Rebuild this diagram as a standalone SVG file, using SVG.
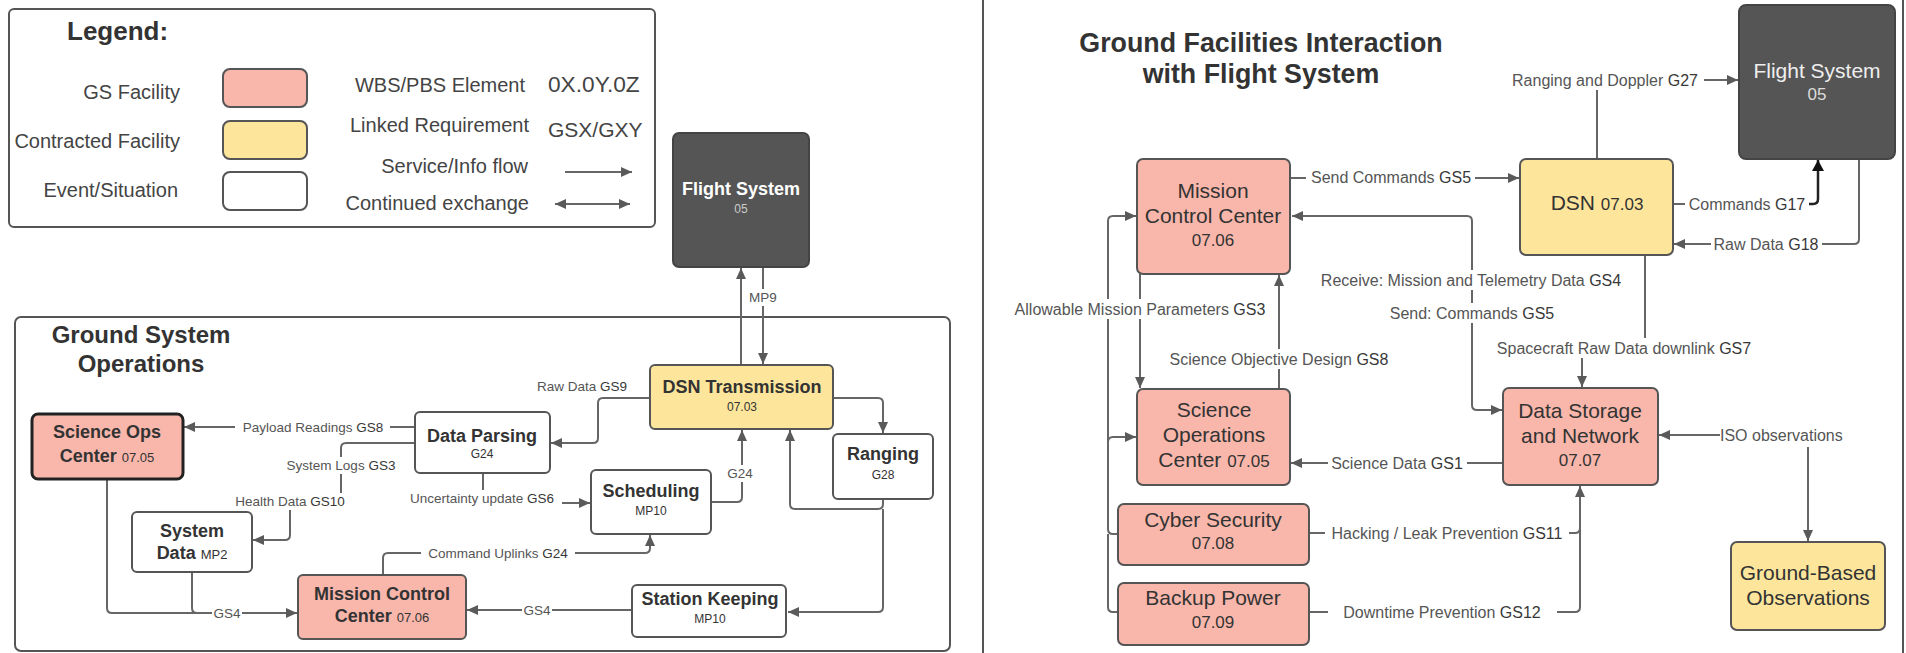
<svg xmlns="http://www.w3.org/2000/svg" width="1906" height="653" viewBox="0 0 1906 653">
<style>
text{font-family:"Liberation Sans",Arial,sans-serif}
.frame{fill:none;stroke:#555;stroke-width:2}
.gs{fill:#f9b7ab;stroke:#555;stroke-width:2}
.ct{fill:#fde69c;stroke:#555;stroke-width:2}
.ev{fill:#fff;stroke:#555;stroke-width:2}
.fs{fill:#555;stroke:#444;stroke-width:2}
.lg{font-size:20px;fill:#444}
.lgc{font-size:21px;fill:#444}
.nb{font-size:18px;font-weight:bold;fill:#333;text-anchor:middle}
.ns{font-size:12px;fill:#333;text-anchor:middle}
.nr{font-size:21px;fill:#333;text-anchor:middle}
.nrs{font-size:17px}
.ll{font-size:13.5px;fill:#555;text-anchor:middle}
.lr{font-size:16px;fill:#555;text-anchor:middle}
.cd{fill:#383838}
.bg{fill:#fff}
.c{fill:none;stroke:#666;stroke-width:2;stroke-linejoin:round}
.ttl{font-weight:bold;fill:#333;text-anchor:middle}
</style>
<defs>
<marker id="a" markerUnits="userSpaceOnUse" markerWidth="12" markerHeight="10" refX="11" refY="5" orient="auto"><path d="M0,0 L11,5 L0,10 z" fill="#5a5a5a"/></marker>
<marker id="as" markerUnits="userSpaceOnUse" markerWidth="12" markerHeight="10" refX="0" refY="5" orient="auto"><path d="M11,0 L0,5 L11,10 z" fill="#5a5a5a"/></marker>
<marker id="ak" markerUnits="userSpaceOnUse" markerWidth="12" markerHeight="12" refX="11" refY="6" orient="auto"><path d="M0,0 L11,6 L0,12 z" fill="#111"/></marker>
</defs>

<g id="legend">
<rect x="9" y="9" width="646" height="218" rx="5" class="frame"/>
<text x="67" y="40" font-size="26" font-weight="bold" fill="#333">Legend:</text>
<text x="180" y="99" class="lg" text-anchor="end">GS Facility</text>
<text x="180" y="148" class="lg" text-anchor="end">Contracted Facility</text>
<text x="178" y="197" class="lg" text-anchor="end">Event/Situation</text>
<rect x="223" y="69" width="84" height="38" rx="7" class="gs"/>
<rect x="223" y="121" width="84" height="38" rx="7" class="ct"/>
<rect x="223" y="172" width="84" height="38" rx="7" class="ev"/>
<text x="525" y="92" class="lg" text-anchor="end">WBS/PBS Element</text>
<text x="548" y="92" class="lgc" font-size="22.7" style="font-size:22.7px">0X.0Y.0Z</text>
<text x="529" y="132" class="lg" text-anchor="end">Linked Requirement</text>
<text x="548" y="137" class="lgc">GSX/GXY</text>
<text x="528" y="173" class="lg" text-anchor="end">Service/Info flow</text>
<text x="529" y="210" class="lg" text-anchor="end">Continued exchange</text>
<path d="M565,172 L632,172" class="c" marker-end="url(#a)"/>
<path d="M555,204 L630,204" class="c" marker-start="url(#as)" marker-end="url(#a)"/>
</g>

<g id="gso-frame">
<rect x="15" y="317" width="935" height="334" rx="6" class="frame"/>
<text x="141" y="343" font-size="24" class="ttl">Ground System</text>
<text x="141" y="372" font-size="24" class="ttl">Operations</text>
</g>

<g id="right-frame">
<line x1="983" y1="0" x2="983" y2="653" stroke="#555" stroke-width="2"/>
<line x1="1903" y1="0" x2="1903" y2="653" stroke="#555" stroke-width="2"/>
<text x="1261" y="52" font-size="26.8" class="ttl">Ground Facilities Interaction</text>
<text x="1261" y="83" font-size="26.8" class="ttl">with Flight System</text>
</g>

<g id="connectors">
<!-- left panel -->
<path d="M415,427 L184,427" class="c" marker-end="url(#a)"/>
<path d="M415,443 L346,443 Q341,443 341,448 L341,501 L290,501 L290,535 Q290,540 285,540 L253,540" class="c" marker-end="url(#a)"/>
<path d="M107,479 L107,608 Q107,613 112,613 L297,613" class="c" marker-end="url(#a)"/>
<path d="M192,572 L192,608 Q192,613 197,613" class="c"/>
<path d="M383,575 L383,558 Q383,553 388,553 L645,553 Q650,553 650,548 L650,535" class="c" marker-end="url(#a)"/>
<path d="M483,473 L483,498 Q483,503 488,503 L590,503" class="c" marker-end="url(#a)"/>
<path d="M650,398 L603,398 Q598,398 598,403 L598,438 Q598,443 593,443 L551,443" class="c" marker-end="url(#a)"/>
<path d="M711,502 L737,502 Q742,502 742,497 L742,430" class="c" marker-end="url(#a)"/>
<path d="M741,365 L741,268" class="c" marker-end="url(#a)"/>
<path d="M763,267 L763,364" class="c" marker-end="url(#a)"/>
<path d="M833,398 L878,398 Q883,398 883,403 L883,433" class="c" marker-end="url(#a)"/>
<path d="M883,499 L883,504 Q883,509 878,509 L795,509 Q790,509 790,504 L790,430" class="c" marker-end="url(#a)"/>
<path d="M883,509 L883,607 Q883,612 878,612 L788,612" class="c" marker-end="url(#a)"/>
<path d="M632,610 L467,610" class="c" marker-end="url(#a)"/>
<!-- left labels -->
<rect x="235" y="419" width="155" height="17" class="bg"/><text x="313" y="432" class="ll">Payload Readings <tspan class="cd">GS8</tspan></text>
<rect x="281" y="457" width="119" height="17" class="bg"/><text x="341" y="470" class="ll">System Logs <tspan class="cd">GS3</tspan></text>
<rect x="231" y="493" width="118" height="17" class="bg"/><text x="290" y="506" class="ll">Health Data <tspan class="cd">GS10</tspan></text>
<rect x="212" y="605" width="30" height="17" class="bg"/><text x="227" y="618" class="ll">GS4</text>
<rect x="421" y="545" width="154" height="17" class="bg"/><text x="498" y="558" class="ll">Command Uplinks <tspan class="cd">G24</tspan></text>
<rect x="403" y="490" width="159" height="17" class="bg"/><text x="482" y="503" class="ll">Uncertainty update <tspan class="cd">GS6</tspan></text>
<rect x="726" y="465" width="28" height="17" class="bg"/><text x="740" y="478" class="ll">G24</text>
<rect x="749" y="289" width="28" height="17" class="bg"/><text x="763" y="302" class="ll">MP9</text>
<rect x="522" y="602" width="30" height="17" class="bg"/><text x="537" y="615" class="ll">GS4</text>
<text x="582" y="391" class="ll">Raw Data <tspan class="cd">GS9</tspan></text>

<!-- right panel -->
<path d="M1290,178 L1519,178" class="c" marker-end="url(#a)"/>
<path d="M1292,216 L1467,216 Q1472,216 1472,221 L1472,405 Q1472,410 1477,410 L1502,410" class="c" marker-start="url(#as)" marker-end="url(#a)"/>
<path d="M1597,159 L1597,85 Q1597,80 1602,80 L1738,80" class="c" marker-end="url(#a)"/>
<path d="M1673,204 L1750,204" class="c"/>
<path d="M1750,204 L1813,204 Q1818,204 1818,199 L1818,160" fill="none" stroke="#222" stroke-width="2.5" marker-end="url(#ak)"/>
<path d="M1859,159 L1859,239 Q1859,244 1854,244 L1674,244" class="c" marker-end="url(#a)"/>
<path d="M1645,255 L1645,343 Q1645,348 1640,348 L1587,348 Q1582,348 1582,353 L1582,387" class="c" marker-end="url(#a)"/>
<path d="M1503,463 L1291,463" class="c" marker-end="url(#a)"/>
<path d="M1118,534 L1113,534 Q1108,534 1108,529 L1108,221 Q1108,216 1113,216 L1136,216" class="c" marker-end="url(#a)"/>
<path d="M1118,612 L1113,612 Q1108,612 1108,607 L1108,534" class="c"/>
<path d="M1108,442 Q1108,437 1113,437 L1136,437" class="c" marker-end="url(#a)"/>
<path d="M1140,274 L1140,388" class="c" marker-end="url(#a)"/>
<path d="M1279,389 L1279,275" class="c" marker-end="url(#a)"/>
<path d="M1309,533 L1575,533 Q1580,533 1580,528" class="c"/>
<path d="M1309,612 L1575,612 Q1580,612 1580,607 L1580,486" class="c" marker-end="url(#a)"/>
<path d="M1720,435 L1659,435" class="c" marker-end="url(#a)"/>
<path d="M1808,447 L1808,541" class="c" marker-end="url(#a)"/>
<!-- right labels -->
<rect x="1306" y="168" width="169" height="20" class="bg"/><text x="1391" y="183" class="lr">Send Commands <tspan class="cd">GS5</tspan></text>
<rect x="1313" y="270" width="317" height="20" class="bg"/><text x="1471" y="286" class="lr">Receive: Mission and Telemetry Data <tspan class="cd">GS4</tspan></text>
<rect x="1385" y="303" width="174" height="20" class="bg"/><text x="1472" y="319" class="lr">Send: Commands <tspan class="cd">GS5</tspan></text>
<rect x="1506" y="70" width="198" height="20" class="bg"/><text x="1605" y="86" class="lr">Ranging and Doppler <tspan class="cd">G27</tspan></text>
<rect x="1685" y="194" width="124" height="20" class="bg"/><text x="1747" y="210" class="lr">Commands <tspan class="cd">G17</tspan></text>
<rect x="1711" y="234" width="111" height="20" class="bg"/><text x="1766" y="250" class="lr">Raw Data <tspan class="cd">G18</tspan></text>
<rect x="1490" y="338" width="268" height="20" class="bg"/><text x="1624" y="354" class="lr">Spacecraft Raw Data downlink <tspan class="cd">GS7</tspan></text>
<rect x="1328" y="453" width="139" height="20" class="bg"/><text x="1397" y="469" class="lr">Science Data <tspan class="cd">GS1</tspan></text>
<rect x="1006" y="299" width="268" height="20" class="bg"/><text x="1140" y="315" class="lr">Allowable Mission Parameters <tspan class="cd">GS3</tspan></text>
<rect x="1163" y="349" width="232" height="20" class="bg"/><text x="1279" y="365" class="lr">Science Objective Design <tspan class="cd">GS8</tspan></text>
<rect x="1325" y="523" width="244" height="20" class="bg"/><text x="1447" y="539" class="lr">Hacking / Leak Prevention <tspan class="cd">GS11</tspan></text>
<rect x="1328" y="602" width="229" height="20" class="bg"/><text x="1442" y="618" class="lr">Downtime Prevention <tspan class="cd">GS12</tspan></text>
<text x="1720" y="441" class="lr" style="text-anchor:start">ISO observations</text>
</g>

<g id="fs-left">
<rect x="673" y="133" width="136" height="134" rx="6" class="fs"/>
<text x="741" y="195" class="nb" style="fill:#fff">Flight System</text>
<text x="741" y="213" class="ns" style="fill:#ccc">05</text>
</g>
<g id="dsn-transmission">
<rect x="650" y="365" width="183" height="64" rx="5" class="ct"/>
<text x="742" y="393" class="nb">DSN Transmission</text>
<text x="742" y="411" class="ns">07.03</text>
</g>
<g id="science-ops-center">
<rect x="32" y="414" width="151" height="65" rx="6" fill="#f9b7ab" stroke="#222" stroke-width="3"/>
<text x="107" y="438" class="nb">Science Ops</text>
<text x="107" y="462" class="nb">Center <tspan font-size="13" font-weight="normal">07.05</tspan></text>
</g>
<g id="data-parsing">
<rect x="415" y="412" width="135" height="61" rx="5" class="ev"/>
<text x="482" y="442" class="nb">Data Parsing</text>
<text x="482" y="458" class="ns">G24</text>
</g>
<g id="system-data">
<rect x="132" y="512" width="120" height="60" rx="5" class="ev"/>
<text x="192" y="537" class="nb">System</text>
<text x="192" y="559" class="nb">Data <tspan font-size="13" font-weight="normal">MP2</tspan></text>
</g>
<g id="mission-control-left">
<rect x="298" y="575" width="168" height="64" rx="5" class="gs"/>
<text x="382" y="600" class="nb">Mission Control</text>
<text x="382" y="622" class="nb">Center <tspan font-size="13" font-weight="normal">07.06</tspan></text>
</g>
<g id="scheduling">
<rect x="591" y="470" width="120" height="64" rx="5" class="ev"/>
<text x="651" y="497" class="nb">Scheduling</text>
<text x="651" y="515" class="ns">MP10</text>
</g>
<g id="ranging">
<rect x="833" y="434" width="100" height="65" rx="5" class="ev"/>
<text x="883" y="460" class="nb">Ranging</text>
<text x="883" y="479" class="ns">G28</text>
</g>
<g id="station-keeping">
<rect x="632" y="585" width="154" height="52" rx="5" class="ev"/>
<text x="710" y="605" class="nb">Station Keeping</text>
<text x="710" y="623" class="ns">MP10</text>
</g>

<g id="mission-control-right">
<rect x="1137" y="159" width="153" height="115" rx="6" class="gs"/>
<text x="1213" y="198" class="nr">Mission</text>
<text x="1213" y="223" class="nr">Control Center</text>
<text x="1213" y="246" class="nr nrs">07.06</text>
</g>
<g id="dsn">
<rect x="1520" y="159" width="153" height="96" rx="6" class="ct"/>
<text x="1597" y="210" class="nr">DSN <tspan font-size="17">07.03</tspan></text>
</g>
<g id="fs-right">
<rect x="1739" y="5" width="156" height="154" rx="7" class="fs"/>
<text x="1817" y="78" class="nr" style="fill:#eee">Flight System</text>
<text x="1817" y="100" class="nr nrs" style="fill:#ddd">05</text>
</g>
<g id="science-operations-center">
<rect x="1137" y="389" width="153" height="96" rx="6" class="gs"/>
<text x="1214" y="417" class="nr">Science</text>
<text x="1214" y="442" class="nr">Operations</text>
<text x="1214" y="467" class="nr">Center <tspan font-size="17">07.05</tspan></text>
</g>
<g id="data-storage">
<rect x="1503" y="388" width="155" height="97" rx="6" class="gs"/>
<text x="1580" y="418" class="nr">Data Storage</text>
<text x="1580" y="443" class="nr">and Network</text>
<text x="1580" y="466" class="nr nrs">07.07</text>
</g>
<g id="cyber-security">
<rect x="1118" y="504" width="191" height="61" rx="6" class="gs"/>
<text x="1213" y="527" class="nr">Cyber Security</text>
<text x="1213" y="549" class="nr nrs">07.08</text>
</g>
<g id="backup-power">
<rect x="1118" y="583" width="191" height="62" rx="6" class="gs"/>
<text x="1213" y="605" class="nr">Backup Power</text>
<text x="1213" y="628" class="nr nrs">07.09</text>
</g>
<g id="ground-based-observations">
<rect x="1731" y="542" width="154" height="88" rx="6" class="ct"/>
<text x="1808" y="580" class="nr">Ground-Based</text>
<text x="1808" y="605" class="nr">Observations</text>
</g>
</svg>
